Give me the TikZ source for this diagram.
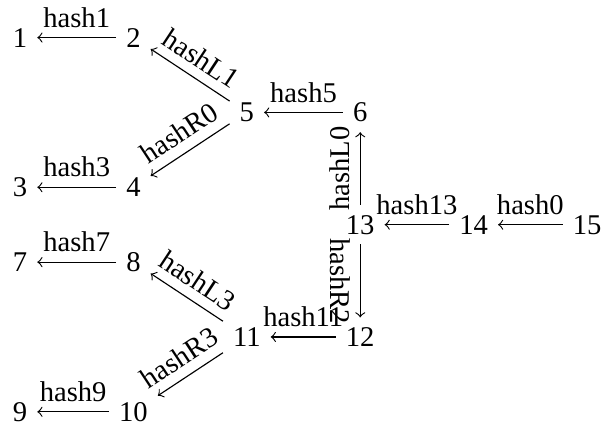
\documentclass[tikz,border=0pt]{standalone}
\usepackage{fontspec}
\setmainfont{Liberation Serif}
\begin{document}
\begin{tikzpicture}[x=1.394cm, y=0.92cm, >=to,
  lbl/.style={midway, above, sloped},
  lblb/.style={midway, below, sloped}]
\useasboundingbox (-0.246cm,-0.184cm) rectangle (7.154cm,5.062cm);
%nodes
\node (n1) at (0,5) {1};
\node (n2) at (1,5) {2};
\node (n3) at (0,3) {3};
\node (n4) at (1,3) {4};
\node (n5) at (2,4) {5};
\node (n6) at (3,4) {6};
\node (n7) at (0,2) {7};
\node (n8) at (1,2) {8};
\node (n9) at (0,0) {9};
\node (n10) at (1,0) {10};
\node (n11) at (2,1) {11};
\node (n12) at (3,1) {12};
\node (n13) at (3,2.5) {13};
\node (n14) at (4,2.5) {14};
\node (n15) at (5,2.5) {15};

%edges
\draw[->] (n15) -- node[lbl] {hash0} (n14);
\draw[->] (n14) -- node[lbl] {hash13} (n13);
\draw[->] (n13) -- node[lbl] {hashL0} (n6);
\draw[->] (n13) -- node[lblb] {hashR2} (n12);
\draw[->] (n6) -- node[lbl] {hash5} (n5);
\draw[->] (n5) -- node[lbl] {hashL1} (n2);
\draw[->] (n5) -- node[lbl] {hashR0} (n4);
\draw[->] (n2) -- node[lbl] {hash1} (n1);
\draw[->] (n4) -- node[lbl] {hash3} (n3);
\draw[->] (n12) -- node[lbl] {hash11} (n11);
\draw[->] (n11) -- node[lbl] {hashL3} (n8);
\draw[->] (n11) -- node[lbl] {hashR3} (n10);
\draw[->] (n8) -- node[lbl] {hash7} (n7);
\draw[->] (n10) -- node[lbl] {hash9} (n9);
\end{tikzpicture}
\end{document}
